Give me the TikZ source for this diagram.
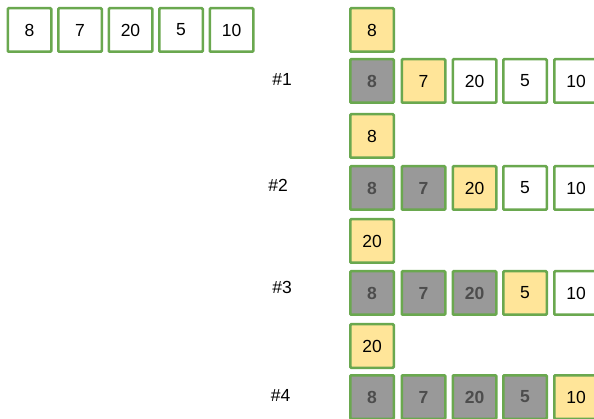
\documentclass[tikz,border=0pt]{standalone}
\usepackage{fontspec}
\setmainfont{Liberation Sans}
\definecolor{boxgreen}{HTML}{6AA84F}
\definecolor{boxyellow}{HTML}{FFE599}
\definecolor{boxgray}{HTML}{999999}
\definecolor{graytext}{HTML}{4D4D4D}
\begin{document}
\begin{tikzpicture}[x=1pt,y=-1pt,
  cell/.style={draw=boxgreen,line width=2.5pt,rounded corners=1pt,minimum width=43.5pt,minimum height=43.5pt,inner sep=0pt,fill=white,font=\fontsize{17.5}{20}\selectfont},
  cur/.style={cell,fill=boxyellow},
  done/.style={cell,fill=boxgray,text=graytext,font=\fontsize{17.5}{20}\selectfont\bfseries},
  lbl/.style={font=\fontsize{17.5}{20}\selectfont}]
\useasboundingbox (0,0) rectangle (594,419);
\clip (0,0) rectangle (594,419);
% initial array
\node[cell] (a1) at (29.5,30) {8};
\node[cell] (a2) at (80,30) {7};
\node[cell] (a3) at (130.5,30) {20};
\node[cell] (a4) at (181,30) {5};
\node[cell] (a5) at (231.5,30) {10};
% step 1
\node[cur] (m1) at (372,30) {8};
\node[lbl] (l1) at (282,79) {\#1};
\node[done] (r11) at (372,81) {8};
\node[cur] (r12) at (423.5,81) {7};
\node[cell] (r13) at (474.5,81) {20};
\node[cell] (r14) at (525,81) {5};
\node[cell] (r15) at (576,81) {10};
% step 2
\node[cur] (m2) at (372,136) {8};
\node[lbl] (l2) at (278,185) {\#2};
\node[done] (r21) at (372,188) {8};
\node[done] (r22) at (423.5,188) {7};
\node[cur] (r23) at (474.5,188) {20};
\node[cell] (r24) at (525,188) {5};
\node[cell] (r25) at (576,188) {10};
% step 3
\node[cur] (m3) at (372,241) {20};
\node[lbl] (l3) at (282,287) {\#3};
\node[done] (r31) at (372,293) {8};
\node[done] (r32) at (423.5,293) {7};
\node[done] (r33) at (474.5,293) {20};
\node[cur] (r34) at (525,293) {5};
\node[cell] (r35) at (576,293) {10};
% step 4
\node[cur] (m4) at (372,346) {20};
\node[lbl] (l4) at (280.5,395) {\#4};
\node[done] (r41) at (372,397) {8};
\node[done] (r42) at (423.5,397) {7};
\node[done] (r43) at (474.5,397) {20};
\node[done] (r44) at (525,397) {5};
\node[cur] (r45) at (576,397) {10};
\end{tikzpicture}
\end{document}
